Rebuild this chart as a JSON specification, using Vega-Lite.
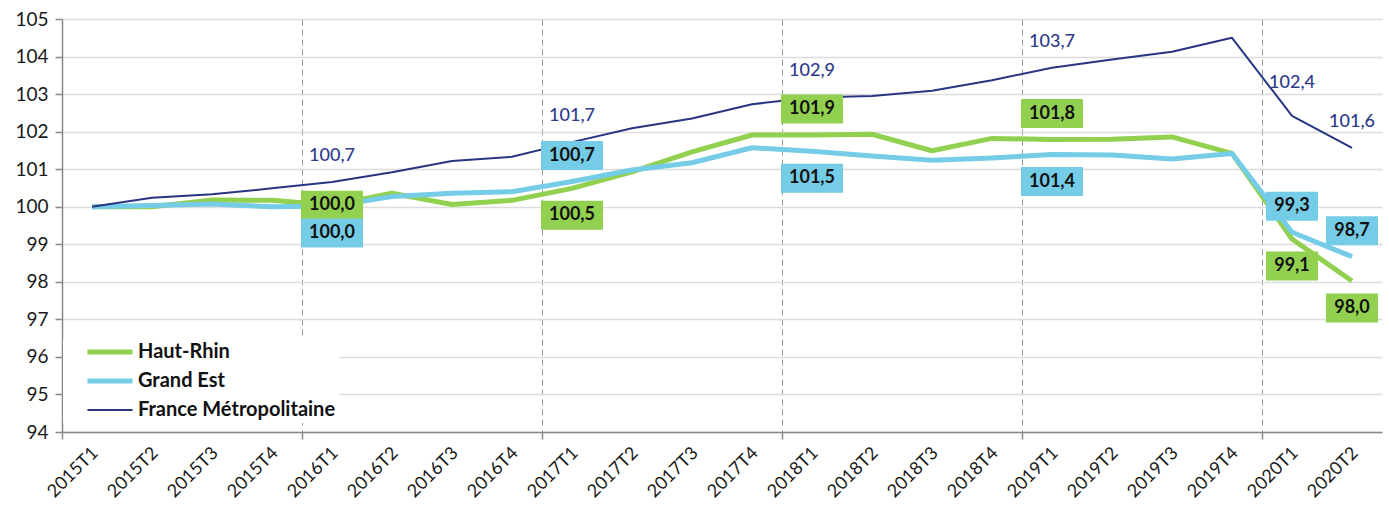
{
  "$schema": "https://vega.github.io/schema/vega-lite/v6.json",
  "width": 1320,
  "height": 413,
  "autosize": "none",
  "padding": {"left": 62, "top": 19, "right": 7, "bottom": 77},
  "background": "white",
  "config": {"view": {"stroke": null}, "font": "Lato"},
  "data": {"values": [
    {"q": "2015T1", "series": "Haut-Rhin", "v": 100.0},
    {"q": "2015T2", "series": "Haut-Rhin", "v": 100.0},
    {"q": "2015T3", "series": "Haut-Rhin", "v": 100.18},
    {"q": "2015T4", "series": "Haut-Rhin", "v": 100.17},
    {"q": "2016T1", "series": "Haut-Rhin", "v": 100.04},
    {"q": "2016T2", "series": "Haut-Rhin", "v": 100.36},
    {"q": "2016T3", "series": "Haut-Rhin", "v": 100.06},
    {"q": "2016T4", "series": "Haut-Rhin", "v": 100.17},
    {"q": "2017T1", "series": "Haut-Rhin", "v": 100.49},
    {"q": "2017T2", "series": "Haut-Rhin", "v": 100.93},
    {"q": "2017T3", "series": "Haut-Rhin", "v": 101.46},
    {"q": "2017T4", "series": "Haut-Rhin", "v": 101.91},
    {"q": "2018T1", "series": "Haut-Rhin", "v": 101.91},
    {"q": "2018T2", "series": "Haut-Rhin", "v": 101.93},
    {"q": "2018T3", "series": "Haut-Rhin", "v": 101.49},
    {"q": "2018T4", "series": "Haut-Rhin", "v": 101.82},
    {"q": "2019T1", "series": "Haut-Rhin", "v": 101.79},
    {"q": "2019T2", "series": "Haut-Rhin", "v": 101.8},
    {"q": "2019T3", "series": "Haut-Rhin", "v": 101.86},
    {"q": "2019T4", "series": "Haut-Rhin", "v": 101.42},
    {"q": "2020T1", "series": "Haut-Rhin", "v": 99.14},
    {"q": "2020T2", "series": "Haut-Rhin", "v": 98.02},
    {"q": "2015T1", "series": "Grand Est", "v": 100.0},
    {"q": "2015T2", "series": "Grand Est", "v": 100.03},
    {"q": "2015T3", "series": "Grand Est", "v": 100.07},
    {"q": "2015T4", "series": "Grand Est", "v": 100.0},
    {"q": "2016T1", "series": "Grand Est", "v": 100.02},
    {"q": "2016T2", "series": "Grand Est", "v": 100.27},
    {"q": "2016T3", "series": "Grand Est", "v": 100.36},
    {"q": "2016T4", "series": "Grand Est", "v": 100.4},
    {"q": "2017T1", "series": "Grand Est", "v": 100.67},
    {"q": "2017T2", "series": "Grand Est", "v": 100.98},
    {"q": "2017T3", "series": "Grand Est", "v": 101.17},
    {"q": "2017T4", "series": "Grand Est", "v": 101.57},
    {"q": "2018T1", "series": "Grand Est", "v": 101.48},
    {"q": "2018T2", "series": "Grand Est", "v": 101.35},
    {"q": "2018T3", "series": "Grand Est", "v": 101.24},
    {"q": "2018T4", "series": "Grand Est", "v": 101.3},
    {"q": "2019T1", "series": "Grand Est", "v": 101.39},
    {"q": "2019T2", "series": "Grand Est", "v": 101.38},
    {"q": "2019T3", "series": "Grand Est", "v": 101.27},
    {"q": "2019T4", "series": "Grand Est", "v": 101.42},
    {"q": "2020T1", "series": "Grand Est", "v": 99.32},
    {"q": "2020T2", "series": "Grand Est", "v": 98.67},
    {"q": "2015T1", "series": "France Métropolitaine", "v": 100.0},
    {"q": "2015T2", "series": "France Métropolitaine", "v": 100.24},
    {"q": "2015T3", "series": "France Métropolitaine", "v": 100.33},
    {"q": "2015T4", "series": "France Métropolitaine", "v": 100.49},
    {"q": "2016T1", "series": "France Métropolitaine", "v": 100.66},
    {"q": "2016T2", "series": "France Métropolitaine", "v": 100.92},
    {"q": "2016T3", "series": "France Métropolitaine", "v": 101.22},
    {"q": "2016T4", "series": "France Métropolitaine", "v": 101.33},
    {"q": "2017T1", "series": "France Métropolitaine", "v": 101.72},
    {"q": "2017T2", "series": "France Métropolitaine", "v": 102.09},
    {"q": "2017T3", "series": "France Métropolitaine", "v": 102.35},
    {"q": "2017T4", "series": "France Métropolitaine", "v": 102.73},
    {"q": "2018T1", "series": "France Métropolitaine", "v": 102.91},
    {"q": "2018T2", "series": "France Métropolitaine", "v": 102.95},
    {"q": "2018T3", "series": "France Métropolitaine", "v": 103.09},
    {"q": "2018T4", "series": "France Métropolitaine", "v": 103.37},
    {"q": "2019T1", "series": "France Métropolitaine", "v": 103.7},
    {"q": "2019T2", "series": "France Métropolitaine", "v": 103.92},
    {"q": "2019T3", "series": "France Métropolitaine", "v": 104.13},
    {"q": "2019T4", "series": "France Métropolitaine", "v": 104.5},
    {"q": "2020T1", "series": "France Métropolitaine", "v": 102.42},
    {"q": "2020T2", "series": "France Métropolitaine", "v": 101.57}
  ]},
  "transform": [
    {"calculate": "replace(format(datum.v, '.1f'), '.', ',')", "as": "lbl"},
    {"calculate": "datum.series=='France Métropolitaine' ? (datum.q=='2020T1' ? -33 : -26) : datum.series=='Haut-Rhin' ? (datum.q=='2016T1' ? 0 : ((datum.q=='2018T1'||datum.q=='2019T1') ? -26 : 27)) : ((datum.q=='2017T1'||datum.q=='2020T1'||datum.q=='2020T2') ? -26 : 27)", "as": "off"}
  ],
  "encoding": {
    "x": {
      "field": "q", "type": "ordinal",
      "scale": {"type": "point", "padding": 0.5},
      "axis": {
        "title": null,
        "labelAngle": -45, "labelAlign": "right", "labelBaseline": "middle",
        "labelFont": "Lato", "labelFontSize": 18, "labelColor": "#1a1a1a",
        "labelPadding": 11,
        "tickOffset": -30, "labelOffset": 33,
        "tickSize": 7, "tickColor": "#888888", "tickWidth": 1.5,
        "tickOpacity": {"condition": {"test": "slice(datum.value, 4) == 'T1'", "value": 1}, "value": 0},
        "grid": true, "gridColor": "#999999", "gridDash": [6, 4], "gridWidth": 1,
        "gridOpacity": {"condition": {"test": "slice(datum.value, 4) == 'T1' && datum.value != '2015T1'", "value": 1}, "value": 0},
        "domainColor": "#888888", "domainWidth": 1.5
      }
    },
    "y": {
      "field": "v", "type": "quantitative",
      "scale": {"domain": [94, 105], "nice": false, "zero": false},
      "axis": {
        "title": null,
        "values": [94, 95, 96, 97, 98, 99, 100, 101, 102, 103, 104, 105],
        "labelFont": "Lato", "labelFontSize": 19, "labelColor": "#1a1a1a",
        "labelPadding": 7,
        "tickSize": 7, "tickColor": "#888888", "tickWidth": 1.5,
        "domainColor": "#888888", "domainWidth": 1.5,
        "grid": true, "gridColor": "#dcdcdc", "gridWidth": 1.5
      }
    }
  },
  "layer": [
    {
      "mark": {"type": "line", "strokeJoin": "round", "strokeCap": "butt"},
      "encoding": {
        "color": {
          "field": "series", "type": "nominal",
          "scale": {"domain": ["Haut-Rhin", "Grand Est", "France Métropolitaine"], "range": ["#92D050", "#75CCE6", "#283583"]},
          "legend": {
            "title": null, "orient": "none", "legendX": 1, "legendY": 320,
            "fillColor": "white", "padding": 3,
            "symbolType": "M-4,0L4,0", "symbolSize": 127, "symbolOffset": 34,
            "labelOffset": 18, "labelFont": "Lato", "labelFontSize": 20, "labelFontWeight": "bold",
            "labelColor": "#111111", "rowPadding": 9, "labelLimit": 400
          }
        },
        "strokeWidth": {
          "field": "series", "type": "nominal",
          "scale": {"type": "ordinal", "domain": ["Haut-Rhin", "Grand Est", "France Métropolitaine"], "range": [5, 5, 2]}
        }
      }
    },
    {
      "transform": [{"filter": "datum.series != 'France Métropolitaine' && indexof(['2016T1','2017T1','2018T1','2019T1','2020T1','2020T2'], datum.q) >= 0"}],
      "mark": {"type": "point", "filled": true, "opacity": 1, "size": 3844, "strokeWidth": 0, "yOffset": {"expr": "datum.off"}},
      "encoding": {
        "shape": {"condition": {"test": "datum.v < 99.95", "value": "M-0.839,-0.468L0.839,-0.468L0.839,0.468L-0.839,0.468Z"}, "value": "M-1,-0.468L1,-0.468L1,0.468L-1,0.468Z"},
        "fill": {"condition": {"test": "datum.series == 'Haut-Rhin'", "value": "#92D050"}, "value": "#75CCE6"}
      }
    },
    {
      "transform": [{"filter": "datum.series != 'France Métropolitaine' && indexof(['2016T1','2017T1','2018T1','2019T1','2020T1','2020T2'], datum.q) >= 0"}],
      "mark": {"type": "text", "font": "Lato", "fontSize": 18, "fontWeight": "bold", "color": "#111111", "align": "center", "baseline": "middle", "yOffset": {"expr": "datum.off"}},
      "encoding": {"text": {"field": "lbl"}}
    },
    {
      "transform": [{"filter": "datum.series == 'France Métropolitaine' && indexof(['2016T1','2017T1','2018T1','2019T1','2020T1','2020T2'], datum.q) >= 0"}],
      "mark": {"type": "text", "font": "Lato", "fontSize": 18, "fontWeight": 500, "color": "#2E3A8C", "align": "center", "baseline": "middle", "yOffset": {"expr": "datum.off"}},
      "encoding": {"text": {"field": "lbl"}}
    }
  ]
}
